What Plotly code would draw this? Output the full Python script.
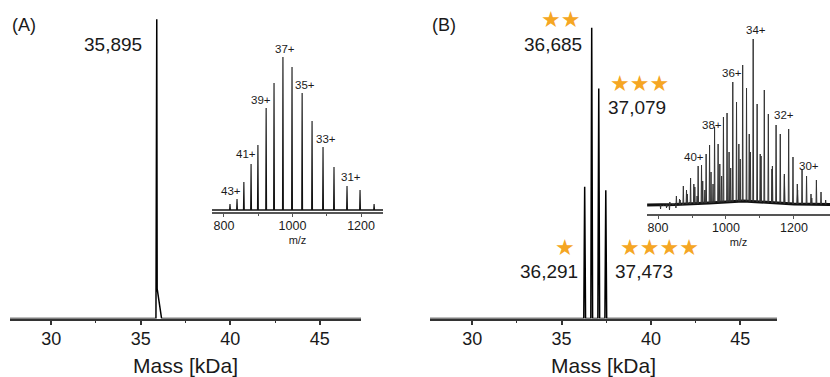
import plotly.graph_objects as go
import numpy as np

W, H = 830, 377

# ---------------- data ----------------
# Panel A – deconvoluted mass (kDa) and relative intensity (%)
massA = [35.895]
intA = [100.0]
labelA = ["35,895"]

# Panel B – deconvoluted masses (kDa), relative intensity (%), star count
massB = [36.291, 36.685, 37.079, 37.473]
intB = [44.0, 97.2, 76.9, 42.9]
labelB = ["36,291", "36,685", "37,079", "37,473"]
starsB = [1, 2, 3, 4]

# Inset A – raw ESI spectrum peaks (m/z, intensity a.u.)
mzA = [817.5, 838, 858, 879, 899, 923, 946, 972, 998.5, 1028, 1057, 1089, 1121, 1159, 1197, 1238]
hA = [8, 13, 30, 48, 67, 104, 129, 155, 145, 119, 91, 65, 45, 26, 22, 8]
baseA_mz = [765, 1264]
baseA_h = [2, 2]
chargeA = ["43+", "41+", "39+", "37+", "35+", "33+", "31+"]

# Inset B – raw ESI spectrum of the mixture (charge states 45+ .. 29+)
zB = [45, 44, 43, 42, 41, 40, 39, 38, 37, 36, 35, 34, 33, 32, 31, 30, 29]
mz_36291 = [807.5, 825.8, 845.0, 865.1, 886.2, 908.3, 931.5, 956.0, 981.8, 1009.1, 1037.9, 1068.4, 1100.7, 1135.1, 1171.7, 1210.7, 1252.4]
mz_36685 = [816.2, 834.8, 854.1, 874.5, 895.8, 918.1, 941.6, 966.4, 992.5, 1020.0, 1049.1, 1080.0, 1112.7, 1147.4, 1184.4, 1223.8, 1266.0]
mz_37079 = [825.0, 843.7, 863.3, 883.8, 905.4, 928.0, 951.7, 976.8, 1003.1, 1031.0, 1060.4, 1091.6, 1124.6, 1159.7, 1197.1, 1237.0, 1279.6]
mz_37473 = [833.7, 852.7, 872.5, 893.2, 915.0, 937.8, 961.9, 987.1, 1013.8, 1041.9, 1071.7, 1103.2, 1136.6, 1172.0, 1209.8, 1250.1, 1293.2]
h_36291 = [5, 7, 10, 14, 20, 27, 33, 42, 50, 62, 70, 80, 60, 45, 40, 24, 16]
h_36685 = [8, 12, 18, 28, 36, 48, 60, 87, 97, 132, 149, 175, 124, 89, 85, 45, 34]
h_37079 = [6, 10, 15, 24, 30, 49, 69, 70, 101, 112, 126, 110, 100, 80, 57, 38, 22]
h_37473 = [4, 6, 9, 12, 18, 24, 30, 38, 46, 55, 62, 58, 48, 38, 30, 20, 14]
baseB_mz = [768, 850, 950, 1050, 1100, 1150, 1200, 1306]
baseB_h = [9, 9.5, 11, 13, 12, 11, 10, 9.5]
chargeB = ["40+", "38+", "36+", "34+", "32+", "30+"]

# ---------------- helpers ----------------
def px(x):
    return x / W

def py(y):
    return 1 - y / H

def main_trace(masses, ints, lo, hi, hw, tail=False):
    xs, ys = [lo], [0]
    for m, i in sorted(zip(masses, ints)):
        if tail:
            xs += [m - hw, m, m + 0.5 * hw, m + 6 * hw]
            ys += [0, i, 0.1 * i, 0]
        else:
            xs += [m - hw, m, m + hw]
            ys += [0, i, 0]
    xs.append(hi)
    ys.append(0)
    return xs, ys

def spike_trace(mzs, hs, base_mz, base_h, hw):
    xs, ys = [], []
    for m, h in zip(mzs, hs):
        b = float(np.interp(m, base_mz, base_h))
        xs += [m - hw, m, m + hw, None]
        ys += [b, h, b, None]
    return xs, ys

rangeA = [27.7, 47.3]
rangeB = [27.63, 47.06]
rangeIA = [765, 1264]
rangeIB = [767.6, 1306]

fig = go.Figure()

# main A
x, y = main_trace(massA, intA, rangeA[0], rangeA[1], 0.045, tail=True)
fig.add_trace(go.Scatter(x=x, y=y, mode="lines", line=dict(color="black", width=1.5),
                         xaxis="x", yaxis="y", showlegend=False, hoverinfo="skip"))
# main B
x, y = main_trace(massB, intB, rangeB[0], rangeB[1], 0.05)
fig.add_trace(go.Scatter(x=x, y=y, mode="lines", line=dict(color="black", width=1.5),
                         xaxis="x2", yaxis="y2", showlegend=False, hoverinfo="skip"))
# inset A
fig.add_trace(go.Scatter(x=baseA_mz, y=baseA_h, mode="lines", line=dict(color="#111", width=1.5),
                         xaxis="x3", yaxis="y3", showlegend=False, hoverinfo="skip"))
x, y = spike_trace(mzA, hA, baseA_mz, baseA_h, 1.3)
fig.add_trace(go.Scatter(x=x, y=y, mode="lines", line=dict(color="#111", width=1.1),
                         xaxis="x3", yaxis="y3", showlegend=False, hoverinfo="skip"))
# inset B
fig.add_trace(go.Scatter(x=baseB_mz, y=baseB_h, mode="lines", line=dict(color="#111", width=3),
                         xaxis="x4", yaxis="y4", showlegend=False, hoverinfo="skip"))
for mzs, hs in [(mz_36291, h_36291), (mz_37473, h_37473), (mz_37079, h_37079), (mz_36685, h_36685)]:
    x, y = spike_trace(mzs, hs, baseB_mz, baseB_h, 1.2)
    fig.add_trace(go.Scatter(x=x, y=y, mode="lines", line=dict(color="#333", width=1.0),
                             xaxis="x4", yaxis="y4", showlegend=False, hoverinfo="skip"))

FONT = "Liberation Sans, Arial, sans-serif"
AX = "#333333"

def main_xaxis(domain, rng, anchor):
    return dict(domain=domain, range=rng, anchor=anchor, showgrid=False, zeroline=False,
                showline=True, linecolor=AX, linewidth=1.8,
                ticks="outside", ticklen=5, tickwidth=1.5, tickcolor=AX,
                tickvals=[30, 35, 40, 45], ticklabelstandoff=-2,
                tickfont=dict(family=FONT, size=18, color="#1a1a1a"),
                minor=dict(ticks="outside", ticklen=3, tickwidth=1.2, tickcolor=AX,
                           tickvals=[32.5, 37.5, 42.5]),
                title=dict(text="Mass [kDa]", font=dict(family=FONT, size=21, color="#1a1a1a"),
                           standoff=13))

def inset_xaxis(domain, rng, anchor):
    return dict(domain=domain, range=rng, anchor=anchor, showgrid=False, zeroline=False,
                showline=True, linecolor="#555", linewidth=1.6,
                ticks="outside", ticklen=3, tickwidth=1, tickcolor="#555",
                tickvals=[800, 1000, 1200], ticklabelstandoff=-2,
                tickfont=dict(family=FONT, size=12.5, color="#1a1a1a"),
                minor=dict(ticks="outside", ticklen=2, tickwidth=1, tickcolor="#555",
                           tickvals=[900, 1100]),
                title=dict(text="m/z", font=dict(family=FONT, size=11, color="#1a1a1a"),
                           standoff=5))

def hidden_y(domain, rng, anchor):
    return dict(domain=domain, range=rng, anchor=anchor, visible=False, showgrid=False,
                zeroline=False, fixedrange=True)

fig.update_layout(
    width=W, height=H, margin=dict(l=0, r=0, t=0, b=0),
    paper_bgcolor="white", plot_bgcolor="rgba(0,0,0,0)",
    xaxis=main_xaxis([px(10), px(361)], rangeA, "y"),
    yaxis=hidden_y([py(318.5), 1], [0, 106.45], "x"),
    xaxis2=main_xaxis([px(430), px(777)], rangeB, "y2"),
    yaxis2=hidden_y([py(318.5), 1], [0, 106.45], "x2"),
    xaxis3=inset_xaxis([px(212), px(383)], rangeIA, "y3"),
    yaxis3=hidden_y([py(212), 1], [0, 212], "x3"),
    xaxis4=inset_xaxis([px(647), 1.0], rangeIB, "y4"),
    yaxis4=hidden_y([py(214), 1], [0, 214], "x4"),
)

ann = []
def txt(s, x, y, size, color="#1a1a1a", family=FONT):
    ann.append(dict(text=s, x=px(x), y=py(y), xref="paper", yref="paper", showarrow=False,
                    xanchor="center", yanchor="middle",
                    font=dict(family=family, size=size, color=color)))

# panel letters
txt("(A)", 23.5, 25, 18)
txt("(B)", 443.5, 25, 18)
# main labels
txt(labelA[0], 112.5, 44.5, 19)
lab_pos = {"36,291": (548.5, 271), "36,685": (553, 44), "37,079": (636.5, 107.5), "37,473": (644, 271)}
star_pos = {"36,291": (565, 247), "36,685": (560, 19), "37,079": (639, 83.5), "37,473": (659, 247)}
for lab, n in zip(labelB, starsB):
    txt(lab, *lab_pos[lab], 19)
    txt("\u2605" * n, *star_pos[lab], 22, color="#F5A623", family="DejaVu Sans")
# inset charge labels
posA = {"43+": (231, 191), "41+": (246, 154), "39+": (261, 100), "37+": (285, 49),
        "35+": (305, 85), "33+": (326, 139), "31+": (351, 177)}
for c in chargeA:
    txt(c, *posA[c], 11.5)
posB = {"40+": (693.5, 157), "38+": (711.5, 125), "36+": (731.5, 73), "34+": (755.5, 30.5),
        "32+": (783.5, 115), "30+": (808.5, 165.5)}
for c in chargeB:
    txt(c, *posB[c], 11.5)

fig.update_layout(annotations=ann)
fig.write_html("out.html", config={"displayModeBar": False},
               post_script="document.body.style.margin='0';document.body.style.overflow='hidden';")
